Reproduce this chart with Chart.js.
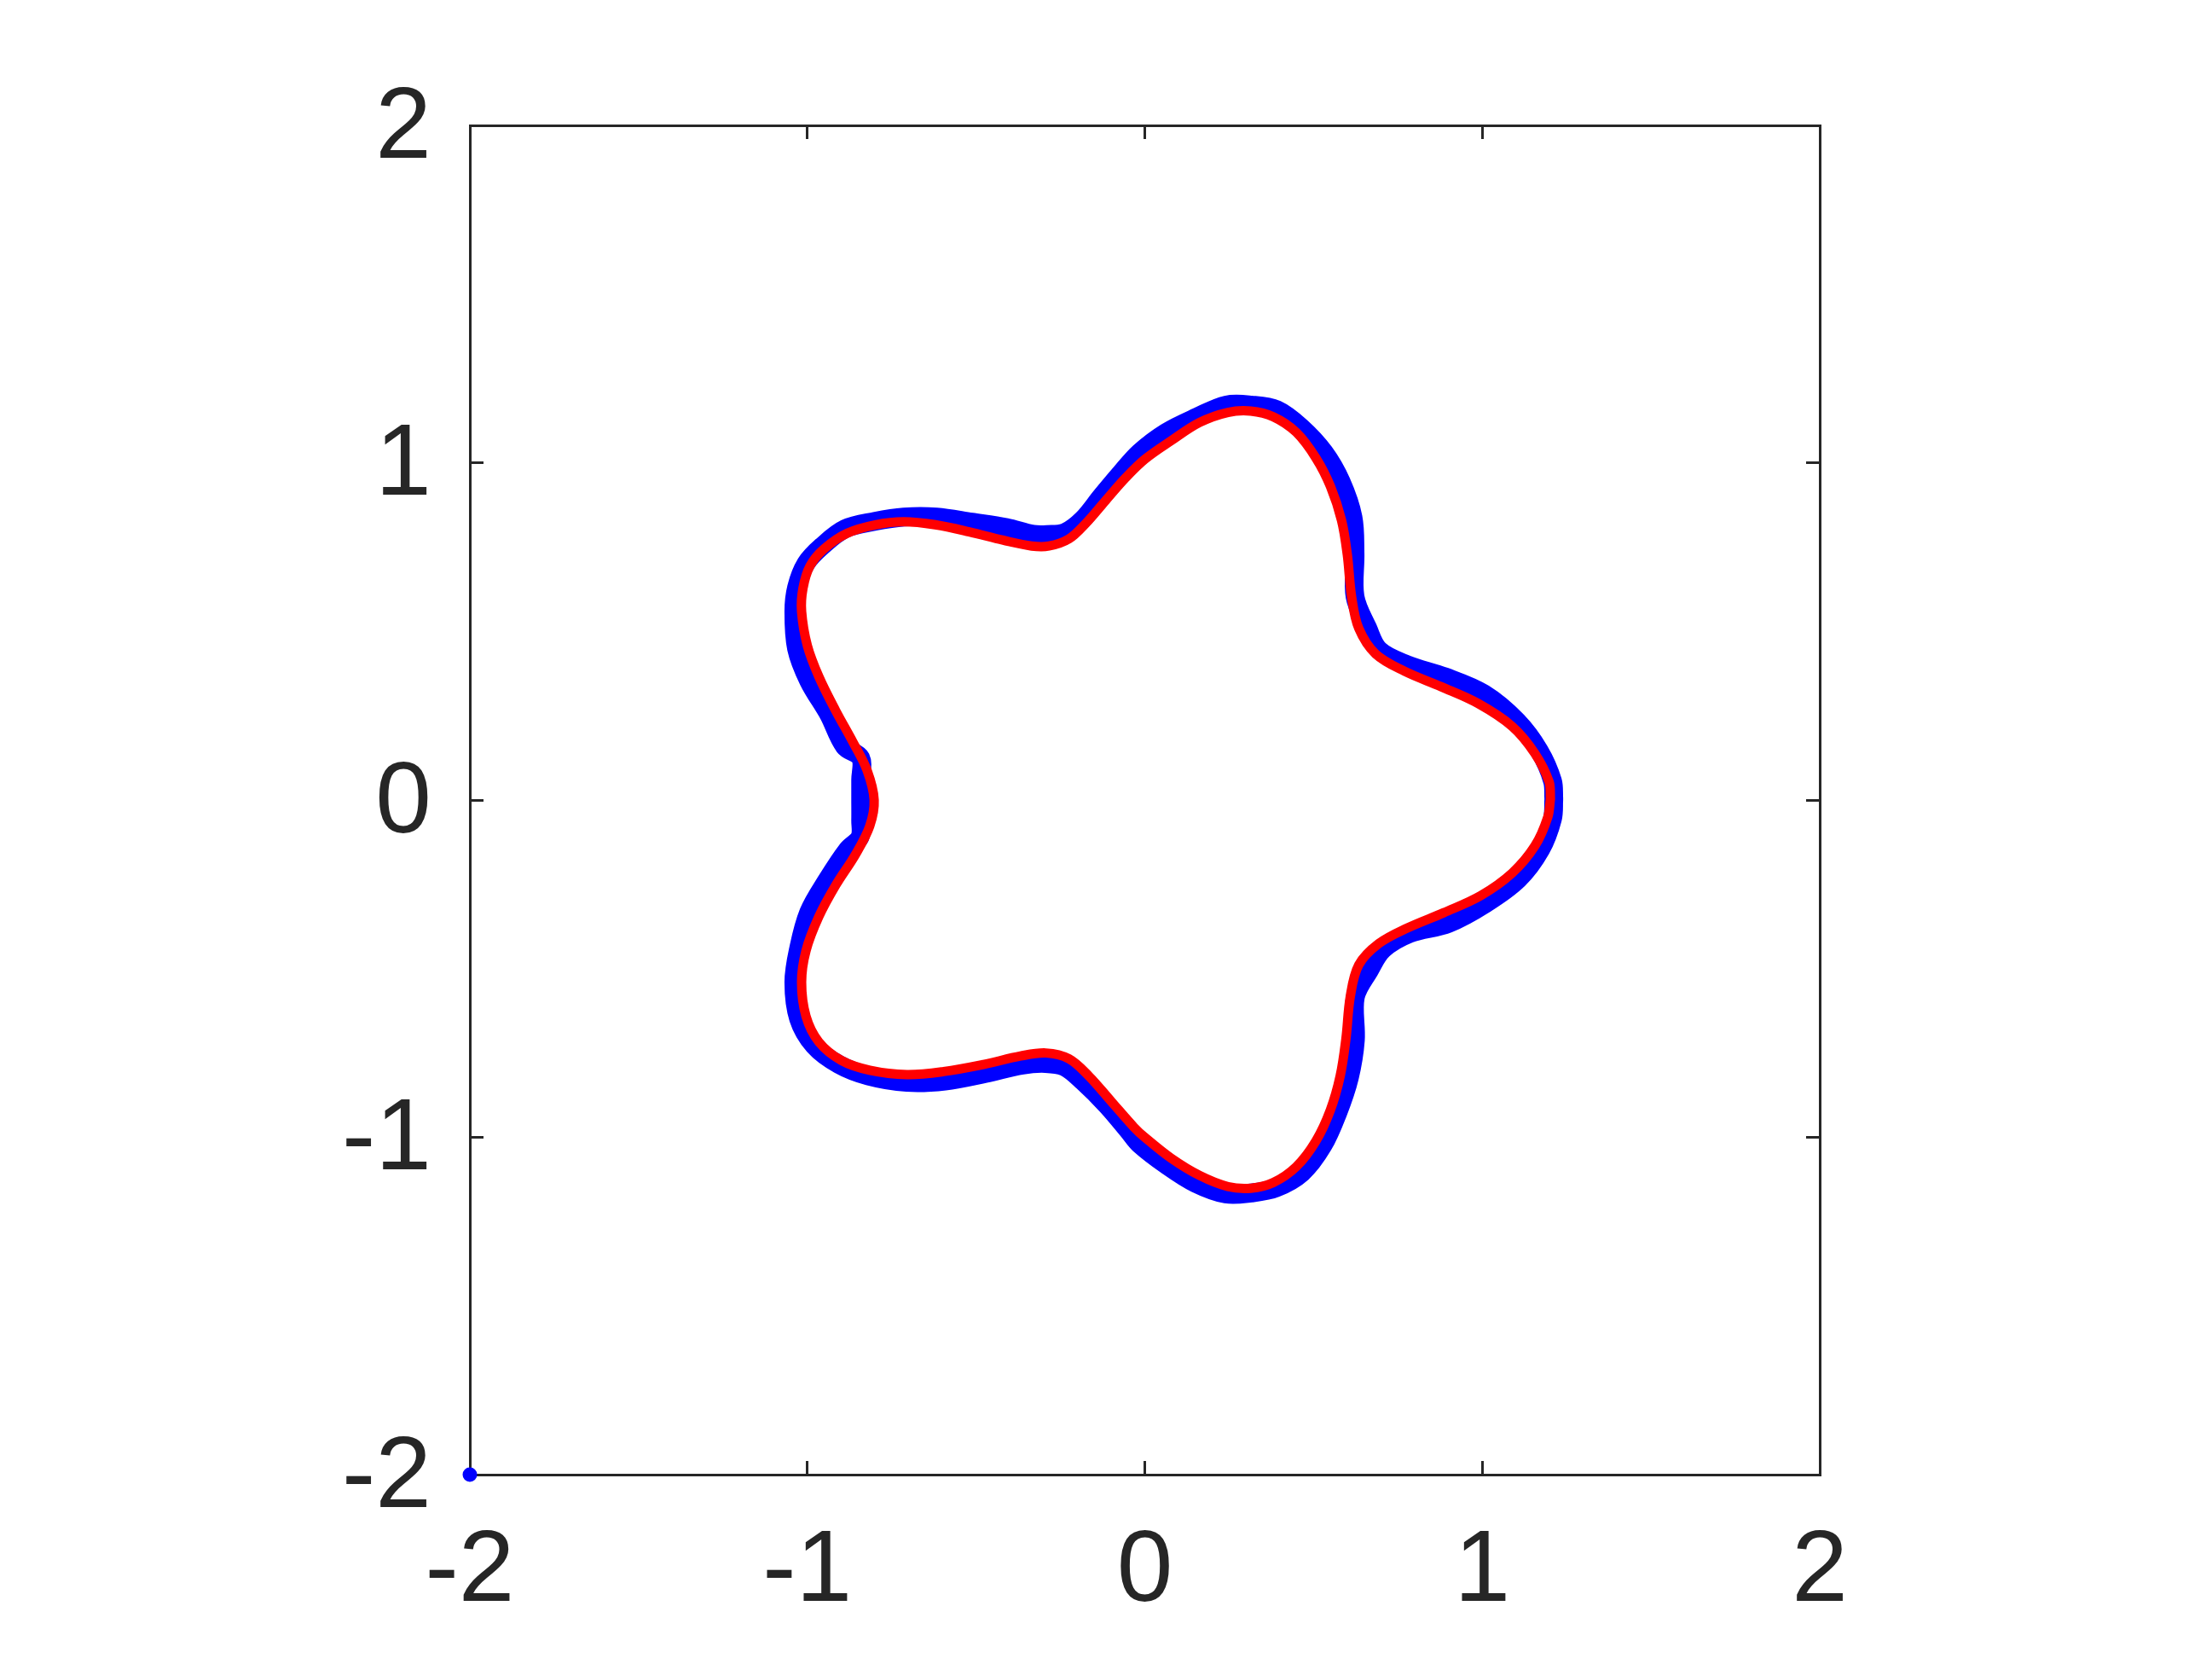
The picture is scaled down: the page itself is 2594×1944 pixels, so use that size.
<!DOCTYPE html>
<html>
<head>
<meta charset="utf-8">
<script src="https://cdn.jsdelivr.net/npm/chart.js@4.4.1/dist/chart.umd.min.js"></script>
<style>
html,body{margin:0;padding:0;background:#ffffff;}
canvas{display:block;}
</style>
</head>
<body>
<canvas id="c" width="2594" height="1944"></canvas>
<script>
// ---- data ----
const tickValues = [-2, -1, 0, 1, 2];
const tickLabels = ['-2', '-1', '0', '1', '2'];

// red fitted curve (closed)
const curveX = [1.202,1.198,1.156,1.089,0.988,0.878,0.769,0.684,0.634,0.613,
  0.600,0.583,0.550,0.507,0.449,0.381,0.314,0.246,0.162,0.078,
  0.000,-0.057,-0.116,-0.175,-0.225,-0.284,-0.335,-0.419,-0.520,-0.621,
  -0.714,-0.798,-0.882,-0.950,-0.992,-1.013,-1.017,-1.000,-0.966,-0.916,
  -0.865,-0.823,-0.802,-0.815,-0.857,-0.916,-0.966,-1.004,-1.017,-1.004,
  -0.966,-0.899,-0.815,-0.705,-0.596,-0.478,-0.368,-0.293,-0.225,-0.166,
  -0.099,-0.032,0.000,0.078,0.162,0.246,0.314,0.381,0.449,0.507,
  0.550,0.579,0.596,0.609,0.634,0.693,0.777,0.886,0.996,1.089,
  1.156,1.194,1.202];
const curveY = [0.003,0.054,0.138,0.218,0.286,0.336,0.382,0.433,0.509,0.601,
  0.728,0.829,0.930,1.014,1.090,1.136,1.153,1.149,1.119,1.065,
  1.010,0.955,0.888,0.820,0.774,0.753,0.753,0.770,0.795,0.816,
  0.825,0.816,0.791,0.745,0.694,0.627,0.559,0.458,0.366,0.265,
  0.172,0.088,0.000,-0.077,-0.161,-0.253,-0.346,-0.447,-0.540,-0.641,
  -0.717,-0.772,-0.801,-0.814,-0.805,-0.784,-0.759,-0.750,-0.767,-0.818,
  -0.894,-0.970,-1.000,-1.062,-1.113,-1.146,-1.151,-1.134,-1.087,-1.011,
  -0.919,-0.818,-0.708,-0.582,-0.489,-0.426,-0.380,-0.334,-0.283,-0.216,
  -0.136,-0.051,0.003];

// blue sample points (dense band just outside the curve)
const sampleX = [1.212,1.208,1.169,1.103,1.005,0.890,0.778,0.695,0.660,0.623,
  0.623,0.617,0.582,0.532,0.463,0.391,0.316,0.241,0.154,0.062,
  -0.016,-0.071,-0.129,-0.185,-0.237,-0.290,-0.331,-0.410,-0.513,-0.617,
  -0.714,-0.800,-0.888,-0.957,-1.004,-1.032,-1.040,-1.032,-0.996,-0.937,
  -0.890,-0.842,-0.842,-0.842,-0.842,-0.844,-0.881,-0.942,-0.996,-1.026,
  -1.040,-1.026,-0.980,-0.906,-0.819,-0.705,-0.592,-0.473,-0.363,-0.295,
  -0.238,-0.183,-0.112,-0.046,-0.016,0.064,0.150,0.240,0.315,0.389,
  0.466,0.528,0.572,0.606,0.624,0.624,0.665,0.706,0.785,0.900,
  1.010,1.107,1.173,1.208,1.212];
const sampleY = [0.003,0.057,0.146,0.234,0.315,0.365,0.401,0.444,0.511,0.603,
  0.731,0.838,0.943,1.030,1.105,1.157,1.171,1.171,1.135,1.089,
  1.030,0.969,0.900,0.831,0.793,0.787,0.788,0.808,0.824,0.839,
  0.839,0.826,0.804,0.752,0.701,0.630,0.558,0.449,0.353,0.254,
  0.159,0.125,0.060,0.000,-0.060,-0.110,-0.147,-0.238,-0.333,-0.441,
  -0.540,-0.648,-0.728,-0.784,-0.818,-0.837,-0.833,-0.811,-0.786,-0.781,
  -0.791,-0.835,-0.906,-0.984,-1.020,-1.082,-1.136,-1.168,-1.165,-1.150,
  -1.105,-1.024,-0.927,-0.824,-0.712,-0.584,-0.506,-0.443,-0.396,-0.366,
  -0.307,-0.235,-0.147,-0.056,0.003];

// isolated blue sample
const outlierX = [-2];
const outlierY = [-2];

// ---- build chart ----
const toPts = (xs, ys) => xs.map((x, i) => ({x: x, y: ys[i]}));
const INK = '#262626';
const FONT = {family: "'Liberation Sans', Arial, Helvetica, sans-serif", size: 118};

function axis(position, showLabels, fitSize, labelOffset) {
  const horizontal = (position === 'top' || position === 'bottom');
  return {
    type: 'linear',
    position: position,
    min: -2, max: 2,
    afterBuildTicks: s => { s.ticks = tickValues.map(v => ({value: v})); },
    afterFit: s => { if (horizontal) { s.height = fitSize; } else { s.width = fitSize; } },
    ticks: {
      display: showLabels,
      autoSkip: false,
      maxRotation: 0,
      minRotation: 0,
      padding: 61,
      labelOffset: labelOffset,
      color: INK,
      font: FONT,
      callback: (v, i) => tickLabels[i]
    },
    grid: {
      display: true,
      drawOnChartArea: false,
      drawTicks: true,
      tickLength: -16,
      color: INK,
      lineWidth: 3
    },
    border: {display: true, color: INK, width: 3}
  };
}

const chart = new Chart(document.getElementById('c'), {
  type: 'scatter',
  data: {
    datasets: [
      {
        label: 'fit',
        data: toPts(curveX, curveY),
        showLine: true,
        borderColor: '#ff0000',
        borderWidth: 11,
        borderCapStyle: 'round',
        borderJoinStyle: 'round',
        pointRadius: 0,
        tension: 0.35,
        fill: false,
        order: 0
      },
      {
        label: 'samples',
        data: toPts(sampleX, sampleY),
        showLine: true,
        borderColor: '#0000ff',
        borderWidth: 22,
        borderCapStyle: 'round',
        borderJoinStyle: 'round',
        pointRadius: 8,
        pointBackgroundColor: '#0000ff',
        pointBorderWidth: 0,
        tension: 0.35,
        fill: false,
        order: 1
      },
      {
        label: 'outlier',
        data: toPts(outlierX, outlierY),
        showLine: false,
        pointRadius: 8.5,
        pointBackgroundColor: '#0000ff',
        pointBorderWidth: 0,
        clip: false,
        order: 1
      }
    ]
  },
  options: {
    responsive: false,
    devicePixelRatio: 1,
    animation: false,
    events: [],
    layout: {padding: {left: 0, right: 460, top: 147, bottom: 0}},
    plugins: {legend: {display: false}, tooltip: {enabled: false}},
    scales: {
      x: axis('bottom', true, 215, 0),
      y: axis('left', true, 551, 5),
      x2: axis('top', false, 0, 0),
      y2: axis('right', false, 0, 0)
    }
  }
});
</script>
</body>
</html>
